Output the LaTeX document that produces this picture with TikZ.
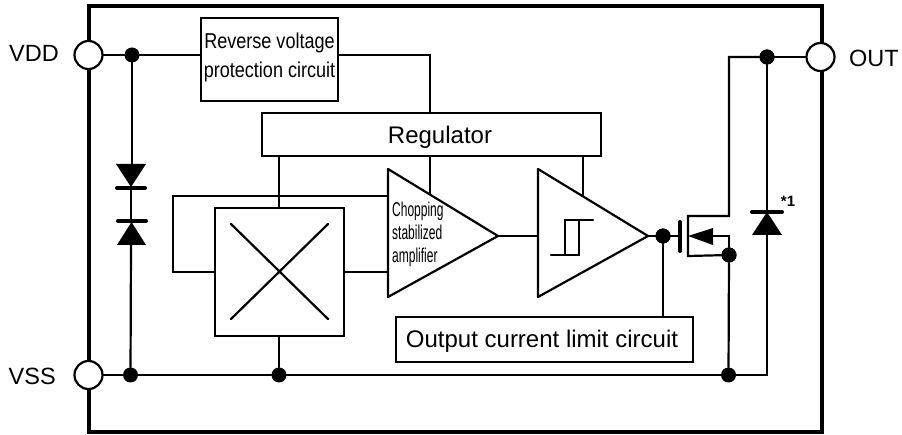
\documentclass[tikz,border=0pt]{standalone}
\usepackage{fontspec}
\setmainfont{Liberation Sans}
\usetikzlibrary{calc}
\tikzset{
  wire/.style={line width=2.2pt,line cap=round,line join=miter},
  frame/.style={line width=4pt},
  blockbox/.style={draw,line width=2.4pt,fill=white,inner sep=0pt},
  dotnode/.style={circle,fill=black,inner sep=0pt,minimum size=15pt},
  term/.style={circle,draw,line width=2.2pt,fill=white,inner sep=0pt,minimum size=28pt},
  lab/.style={inner sep=0pt,font=\fontsize{23.5}{27}\selectfont},
  narrowlab/.style={inner sep=0pt,align=center,font=\fontsize{21.5}{29}\selectfont},
  fillshape/.style={fill=black,draw=none},
  bar/.style={line width=4pt,line cap=round}
}
\begin{document}
\begin{tikzpicture}[x=1pt,y=-1pt]
\useasboundingbox (0,0) rectangle (902,435);
\fill[white] (0,0) rectangle (902,435);
% frame
\draw[frame] (89,6) rectangle (822,432);
% coordinates
\node[term] (vdd) at (88.5,55) {};
\node[term] (vss) at (88.5,375) {};
\node[term] (out) at (820.5,57) {};
\node[dotnode] (d1) at (132,55) {};
\node[dotnode] (d2) at (130.5,375) {};
\node[dotnode] (d3) at (279,375) {};
\node[dotnode] (d4) at (728.5,375) {};
\node[dotnode] (d5) at (729,255) {};
\node[dotnode] (d6) at (663,236) {};
\node[dotnode] (d7) at (767,57) {};
\node[blockbox,minimum width=137pt,minimum height=83pt] (rev) at (269.5,59.5) {};
\node[blockbox,minimum width=339pt,minimum height=43pt] (reg) at (431.5,134.5) {};
\node[blockbox,minimum width=129pt,minimum height=128pt] (sw) at (279.5,272) {};
\node[blockbox,minimum width=297pt,minimum height=45pt] (lim) at (544.5,339.5) {};
% wires
\draw[wire] (vdd) -- (d1) -- (rev.west |- d1);
\draw[wire] (d1) -- (132,164);
\draw[wire] (131,187) -- (131,222);
\draw[wire] (131,244) -- (d2);
\draw[wire] (vss) -- (d2) -- (d3) -- (d4) -- (767,375);
\draw[wire] (rev.east |- 0,55) -| (430,113);
\draw[wire] (279,156) -- (sw.north -| 279,0);
\draw[wire] (sw.south -| d3) -- (d3);
\draw[wire] (215,272) -- (173,272) -- (173,196) -- (388,196);
\draw[wire] (344,272) -- (388,272);
\draw[wire] (498,236) -- (538,236);
\draw[wire] (648,236) -- (d6) -- (680,236);
\draw[wire] (d6) -- (663,317);
\draw[wire] (d7) -- (out);
% switch cross
\draw[wire] (231,224) -- (328,319) (328,224) -- (231,319);
% amplifiers
\draw[wire,fill=white,line join=round] (388,169) -- (498,236) -- (388,297) -- cycle;
\draw[wire,fill=white,line join=round] (538,169) -- (648,236) -- (538,297) -- cycle;
\draw[wire] (430,156) -- (430,194);
\draw[wire] (583,156) -- (583,196);
% hysteresis
\draw[wire] (551,255) -- (579,255) -- (579,220) -- (565,220) -- (565,255);
\draw[wire] (579,220) -- (593,220);
% diodes
\fill[fillshape] (116,164) -- (146,164) -- (131,187) -- cycle;
\draw[bar] (117,188) -- (145,188);
\draw[bar] (118,221) -- (146,221);
\fill[fillshape] (117,245) -- (146,245) -- (131.5,222) -- cycle;
\fill[fillshape] (752,235) -- (782,235) -- (767,212) -- cycle;
\draw[wire] (767,57) -- (767,375);
\draw[bar] (752,212) -- (782,212);
% mosfet
\draw[bar] (680,222) -- (680,251);
\draw[wire,line join=miter] (d7) -- (729,57) -- (729,216) -- (688,216) -- (688,256) -- (d5);
\fill[fillshape] (688,236) -- (713,228) -- (713,245) -- cycle;
\draw[wire] (713,236) -- (729,236) -- (d5);
\draw[wire] (d5) -- (d4);
% redraw dots above
\node[dotnode] at (d5) {};
\node[dotnode] at (d6) {};
\node[dotnode] at (d7) {};
% labels
\node[lab,anchor=west] (lvdd) at (9,53.5) {VDD};
\node[lab,anchor=west] (lvss) at (8.5,376) {VSS};
\node[lab,anchor=west] (lout) at (849,58) {OUT};
\node[lab,font=\fontsize{24}{27}\selectfont] (lreg) at (440,137) {Regulator};
\node[lab,font=\fontsize{24}{27}\selectfont] (llim) at (542,341) {Output current limit circuit};
\node[narrowlab] (lrev) at (269.5,57) {\scalebox{0.84}[1]{Reverse voltage}\\\scalebox{0.84}[1]{protection circuit}};
\node[inner sep=0pt,align=left,anchor=west,font=\fontsize{20}{23}\selectfont] (lamp) at (392,234) {\scalebox{0.6}[1]{Chopping}\\\scalebox{0.6}[1]{stabilized}\\\scalebox{0.6}[1]{amplifier}};
\node[inner sep=0pt,font=\bfseries\fontsize{15}{17}\selectfont] (lstar) at (788,201) {*1};
\end{tikzpicture}
\end{document}
